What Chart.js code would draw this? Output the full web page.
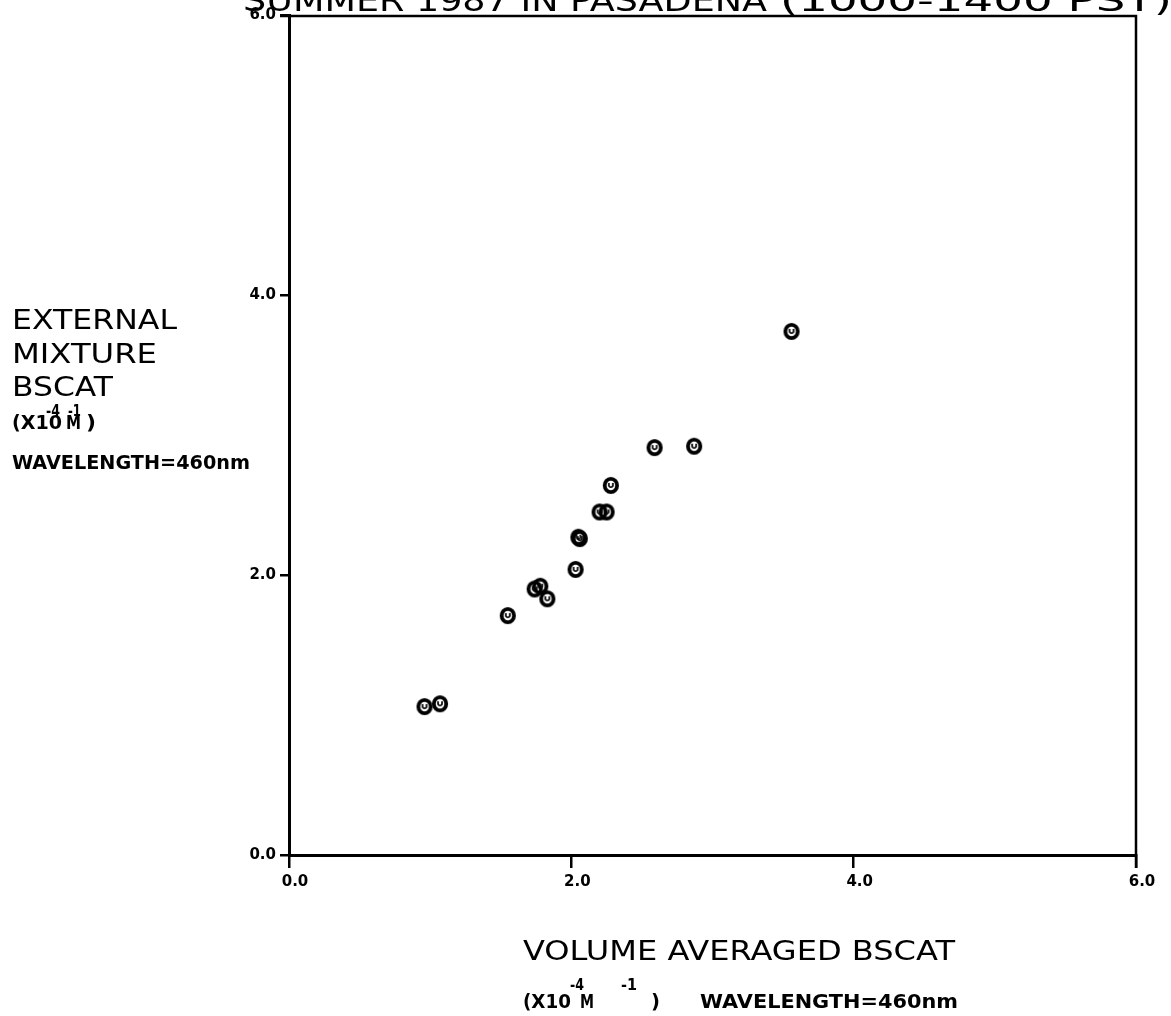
<!DOCTYPE html>
<html>
<head>
<meta charset="utf-8">
<script src="https://cdn.jsdelivr.net/npm/chart.js@4.4.1/dist/chart.umd.min.js"></script>
<style>
  html, body { margin: 0; padding: 0; background: #fff; }
  canvas { display: block; }
</style>
</head>
<body>
<canvas id="chart" width="1171" height="1016"></canvas>
<script>
// Volume-averaged vs. external-mixture light scattering, 460 nm
const volumeAveraged  = [3.56, 2.59, 2.87, 2.28, 2.20, 2.25, 2.05, 2.06, 2.03, 1.74, 1.78, 1.83, 1.55, 0.96, 1.07];
const externalMixture = [3.74, 2.91, 2.92, 2.64, 2.45, 2.45, 2.27, 2.26, 2.04, 1.90, 1.92, 1.83, 1.71, 1.06, 1.08];
const tickValues = [0, 2, 4, 6];

const titleMain = 'SUMMER 1987 IN PASADENA';
const titleTime = '(1000-1400 PST)';
const yTitleLines = ['EXTERNAL', 'MIXTURE', 'BSCAT'];
const xTitle = 'VOLUME AVERAGED BSCAT';
const unitBase = ['(X10', 'M', ')'];
const unitExp = ['-4', '-1'];
const wavelengthLabel = 'WAVELENGTH=460nm';

const TITLE = '30px "DejaVu Sans"';
const BIG = '27px "DejaVu Sans"';
const SMALL = 'bold 20px "DejaVu Sans"';
const SUP = 'bold 15px "DejaVu Sans"';

// Ring marker with a small "u" inside, as drawn by the plotter
function makeMarker() {
  const m = document.createElement('canvas');
  m.width = 20; m.height = 21;
  const g = m.getContext('2d');
  g.strokeStyle = '#000';
  g.lineWidth = 3.8;
  g.beginPath(); g.ellipse(10, 10.5, 6.2, 6.7, 0, 0, Math.PI * 2); g.stroke();
  g.lineWidth = 1.7;
  g.beginPath(); g.moveTo(8, 8); g.lineTo(8, 11); g.quadraticCurveTo(10, 13.5, 12, 11); g.lineTo(12, 8); g.stroke();
  return m;
}

// Text squeezed/stretched horizontally to a given width
function drawFit(ctx, text, x, y, width, font) {
  ctx.save();
  ctx.font = font;
  ctx.textAlign = 'left';
  ctx.textBaseline = 'alphabetic';
  ctx.fillStyle = '#000';
  const w = ctx.measureText(text).width;
  ctx.translate(x, y);
  ctx.scale(width / w, 1);
  ctx.fillText(text, 0, 0);
  ctx.restore();
}

const frameAndLabels = {
  id: 'frameAndLabels',
  afterDraw(chart) {
    const ctx = chart.ctx;
    const a = chart.chartArea;
    // top and right edges of the frame
    ctx.save();
    ctx.strokeStyle = '#000';
    ctx.lineWidth = 2.5;
    ctx.beginPath();
    ctx.moveTo(a.left - 9, a.top + 1);
    ctx.lineTo(a.right, a.top + 1);
    ctx.lineTo(a.right, a.bottom + 13);
    ctx.stroke();
    ctx.restore();

    // title, clipped at the top edge
    drawFit(ctx, titleMain, 243, 11, 524, TITLE);
    drawFit(ctx, titleTime, 780, 11, 392, TITLE);

    // y-axis title block
    drawFit(ctx, yTitleLines[0], 12, 329, 165, BIG);
    drawFit(ctx, yTitleLines[1], 12, 363, 145, BIG);
    drawFit(ctx, yTitleLines[2], 12, 396, 101, BIG);
    drawFit(ctx, unitBase[0], 12, 429, 50, SMALL);
    drawFit(ctx, unitExp[0], 46, 416, 14, SUP);
    drawFit(ctx, unitBase[1], 66, 429, 15, SMALL);
    drawFit(ctx, unitExp[1], 68, 416, 13, SUP);
    drawFit(ctx, unitBase[2], 86, 429, 10, SMALL);
    drawFit(ctx, wavelengthLabel, 12, 469, 238, SMALL);

    // x-axis title block
    drawFit(ctx, xTitle, 523, 960, 432, BIG);
    drawFit(ctx, unitBase[0], 523, 1008, 48, SMALL);
    drawFit(ctx, unitExp[0], 570, 990, 14, SUP);
    drawFit(ctx, unitBase[1], 580, 1008, 14, SMALL);
    drawFit(ctx, unitExp[1], 621, 990, 16, SUP);
    drawFit(ctx, unitBase[2], 651, 1008, 9, SMALL);
    drawFit(ctx, wavelengthLabel, 700, 1008, 258, SMALL);
  }
};

const tickFont = { family: 'DejaVu Sans', weight: 'bold', size: 15 };

new Chart(document.getElementById('chart'), {
  type: 'scatter',
  data: {
    datasets: [{
      data: volumeAveraged.map((v, i) => ({ x: v, y: externalMixture[i] })),
      pointStyle: makeMarker(),
      pointRadius: 9,
      pointHoverRadius: 9
    }]
  },
  options: {
    responsive: false,
    animation: false,
    devicePixelRatio: 1,
    layout: { padding: { left: 0, top: 15, right: 35, bottom: 0 } },
    plugins: { legend: { display: false }, tooltip: { enabled: false } },
    scales: {
      x: {
        type: 'linear', min: 0, max: 6,
        afterBuildTicks: s => { s.ticks = tickValues.map(v => ({ value: v })); },
        ticks: { callback: v => v.toFixed(1), font: tickFont, color: '#000', padding: 5, labelOffset: 6, maxRotation: 0, autoSkip: false },
        grid: { drawOnChartArea: false, drawTicks: true, tickLength: 13, color: '#000', lineWidth: 2.5 },
        border: { display: true, color: '#000', width: 3 },
        afterFit: s => { s.height = 161; }
      },
      y: {
        type: 'linear', min: 0, max: 6,
        afterBuildTicks: s => { s.ticks = tickValues.map(v => ({ value: v })); },
        ticks: { callback: v => v.toFixed(1), font: tickFont, color: '#000', padding: 4, autoSkip: false },
        grid: { drawOnChartArea: false, drawTicks: true, tickLength: 9, color: '#000', lineWidth: 2.5 },
        border: { display: true, color: '#000', width: 3 },
        afterFit: s => { s.width = 289; }
      }
    }
  },
  plugins: [frameAndLabels]
});
</script>
</body>
</html>
